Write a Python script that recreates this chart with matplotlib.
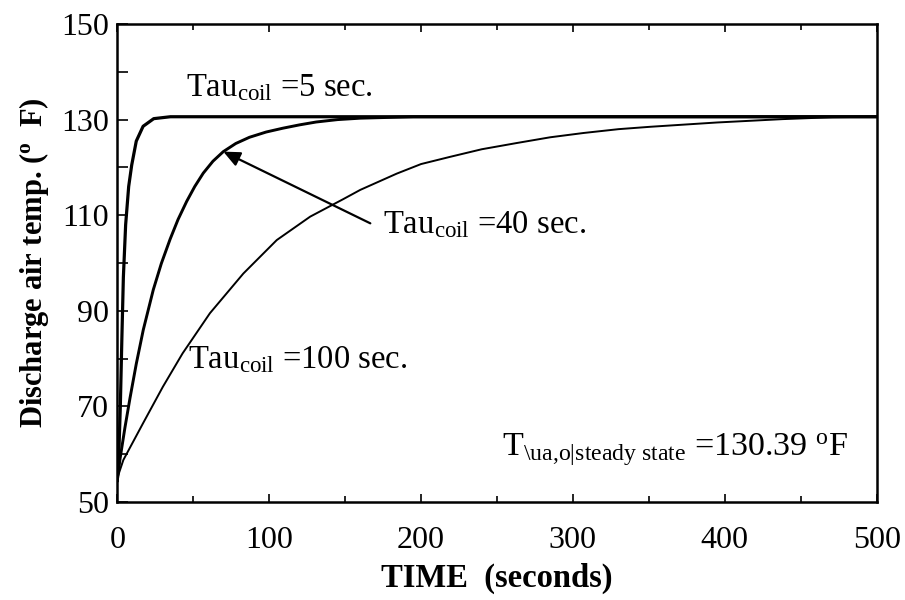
import matplotlib

matplotlib.use("Agg")
import matplotlib.pyplot as plt

# Values (time in s, discharge air temp in deg F)
t_tau5 = [0, 1, 2, 3, 4, 5.5, 7.5, 9.5, 12.5, 17, 24, 35, 500]
T_tau5 = [54.5, 60, 70, 84, 97, 108, 116, 120.5, 125.5, 128.6, 130.2, 130.6, 130.6]

t_tau40 = [0, 1.8, 5, 8.4, 12.5, 17.1, 23.7, 29, 34.8, 40, 45.7, 51, 56.6, 63, 69.8,
           78, 87, 98, 109, 120, 131, 145, 160, 195, 500]
T_tau40 = [54.5, 59.0, 65.5, 71.8, 78.9, 86.0, 94.4, 99.9, 105.0, 109.1, 112.9, 116.0,
           118.8, 121.3, 123.3, 125.0, 126.3, 127.4, 128.2, 128.9, 129.5, 130.0,
           130.3, 130.6, 130.6]

t_tau100 = [0, 4, 17, 30, 43, 61, 83, 105, 127, 149, 160, 184, 200, 219, 240, 263,
            285, 307, 330, 351, 395, 438, 471, 500]
T_tau100 = [55, 58.8, 66.5, 74.1, 81.1, 89.5, 97.8, 104.8, 109.7, 113.4, 115.3, 118.7,
            120.7, 122.2, 123.8, 125.1, 126.3, 127.2, 128.0, 128.5, 129.4, 130.1,
            130.5, 130.6]

x_ticks = [0, 100, 200, 300, 400, 500]
y_ticks = [50, 70, 90, 110, 130, 150]

plt.rcParams.update({
    "font.family": "Liberation Serif",
    "mathtext.fontset": "custom",
    "mathtext.rm": "Liberation Serif",
    "mathtext.it": "Liberation Serif:italic",
    "mathtext.bf": "Liberation Serif:bold",
})

fig = plt.figure(figsize=(9.05, 6.0), dpi=100)
ax = fig.add_axes([0.1296, 0.1633, 0.8391, 0.7967])

ax.plot(t_tau5, T_tau5, color="black", linewidth=2.3)
ax.plot(t_tau40, T_tau40, color="black", linewidth=2.1)
ax.plot(t_tau100, T_tau100, color="black", linewidth=1.4)

ax.set_xlim(0, 500)
ax.set_ylim(50, 150)
ax.set_xticks(x_ticks)
ax.set_xticks(range(50, 500, 100), minor=True)
ax.set_yticks(y_ticks)
ax.set_yticks(range(60, 150, 20), minor=True)

ax.tick_params(axis="x", which="both", direction="in", top=True, labelsize=23,
               pad=17, width=1.2)
ax.tick_params(axis="x", which="major", length=6)
ax.tick_params(axis="x", which="minor", length=4)
ax.tick_params(axis="y", which="both", direction="in", right=False, labelsize=23,
               pad=6, width=1.2, length=8)

for side in ["left", "bottom", "top", "right"]:
    ax.spines[side].set_linewidth(1.8)

ax.set_xlabel("TIME  (seconds)", fontsize=23.5, fontweight="bold", labelpad=6)
ax.set_ylabel(r"Discharge air temp. ($^{\mathbf{o}}$  F)", fontsize=22,
              fontweight="bold", labelpad=7)

ax.text(45.2, 135.0, r"Tau$_{\mathrm{coil}}$ =5 sec.", fontsize=23.5, va="baseline")
ax.text(174.9, 106.3, r"Tau$_{\mathrm{coil}}$ =40 sec.", fontsize=23.5, va="baseline")
ax.text(46.3, 78.0, r"Tau$_{\mathrm{coil}}$ =100 sec.", fontsize=23.5, va="baseline")
ax.text(253, 59.5,
        r"T$_{\backslash\mathrm{ua{,}o|steady\ state}}$ =130.39 $^{\mathrm{o}}$F",
        fontsize=24.5, va="baseline")

ax.annotate("", xy=(69.8, 123.3), xytext=(166.6, 108.3),
            arrowprops=dict(arrowstyle="-|>,head_length=1.0,head_width=0.45",
                            color="black", lw=1.6, shrinkA=0, shrinkB=0))

fig.savefig("out.png", dpi=100)
